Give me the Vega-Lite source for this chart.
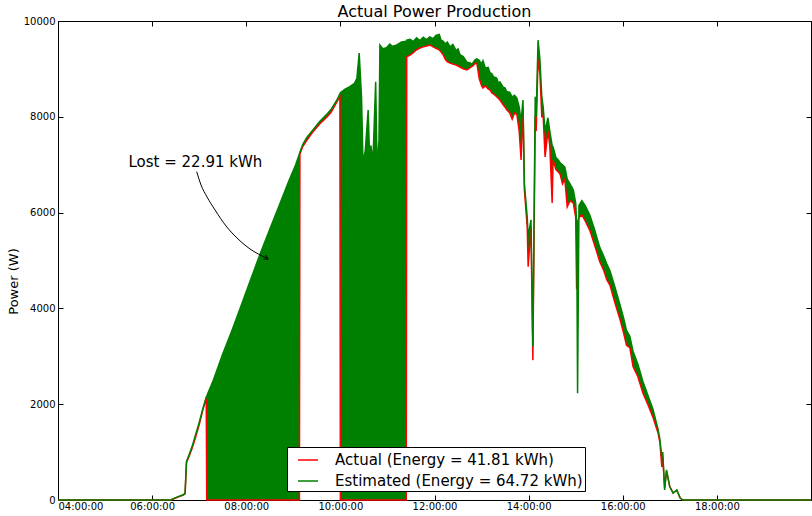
{
  "$schema": "https://vega.github.io/schema/vega-lite/v6.json",
  "width": 753,
  "height": 479,
  "autosize": {"type": "none"},
  "padding": {"left": 58, "top": 21, "right": 1, "bottom": 16},
  "background": "white",
  "title": {"text": "Actual Power Production", "fontSize": 16, "font": "DejaVu Sans", "fontWeight": "normal", "color": "black", "anchor": "middle", "offset": -4},
  "config": {
    "font": "DejaVu Sans",
    "view": {"stroke": "black", "strokeWidth": 1},
    "axis": {"grid": false, "domain": false, "tickColor": "black", "tickSize": -5, "tickWidth": 1, "labelColor": "black", "labelFontSize": 10, "labelFont": "DejaVu Sans"}
  },
  "data": {"values": [
    {"h":4.00,"a":0,"e":0},{"h":6.40,"a":0,"e":0},{"h":6.45,"a":20,"e":30},{"h":6.55,"a":60,"e":70},{"h":6.66,"a":100,"e":110},{"h":6.70,"a":130,"e":140},{"h":6.73,"a":780,"e":800},{"h":6.78,"a":900,"e":930},{"h":6.85,"a":1080,"e":1120},{"h":6.92,"a":1300,"e":1350},{"h":7.00,"a":1570,"e":1620},{"h":7.07,"a":1850,"e":1880},{"h":7.15,"a":2130,"e":2150},
    {"h":7.16,"a":0,"e":2170},{"h":7.30,"a":0,"e":2500},{"h":7.50,"a":0,"e":3050},{"h":7.70,"a":0,"e":3550},{"h":7.90,"a":0,"e":4080},{"h":8.10,"a":0,"e":4620},{"h":8.30,"a":0,"e":5150},{"h":8.50,"a":0,"e":5650},{"h":8.70,"a":0,"e":6150},{"h":8.90,"a":0,"e":6650},{"h":9.05,"a":0,"e":7000},{"h":9.13,"a":0,"e":7230},
    {"h":9.14,"a":7220,"e":7260},{"h":9.20,"a":7380,"e":7420},{"h":9.28,"a":7500,"e":7560},{"h":9.42,"a":7690,"e":7730},{"h":9.56,"a":7850,"e":7900},{"h":9.70,"a":7980,"e":8040},{"h":9.80,"a":8090,"e":8150},{"h":9.92,"a":8300,"e":8340},{"h":9.99,"a":8420,"e":8480},
    {"h":10.00,"a":0,"e":8500},{"h":10.10,"a":0,"e":8580},{"h":10.20,"a":0,"e":8630},{"h":10.30,"a":0,"e":8700},{"h":10.35,"a":0,"e":8800},{"h":10.40,"a":0,"e":9330},{"h":10.45,"a":0,"e":8400},{"h":10.48,"a":0,"e":7040},{"h":10.53,"a":0,"e":7300},{"h":10.59,"a":0,"e":8140},{"h":10.62,"a":0,"e":7200},{"h":10.65,"a":0,"e":7400},{"h":10.69,"a":0,"e":7040},{"h":10.75,"a":0,"e":8730},{"h":10.78,"a":0,"e":6950},{"h":10.82,"a":0,"e":7500},{"h":10.84,"a":0,"e":9500},{"h":10.90,"a":0,"e":9420},{"h":10.98,"a":0,"e":9440},{"h":11.05,"a":0,"e":9520},{"h":11.10,"a":0,"e":9470},{"h":11.20,"a":0,"e":9500},{"h":11.30,"a":0,"e":9560},{"h":11.40,"a":0,"e":9580},
    {"h":11.41,"a":9250,"e":9600},{"h":11.48,"a":9290,"e":9620},{"h":11.55,"a":9340,"e":9570},{"h":11.62,"a":9400,"e":9650},{"h":11.69,"a":9437,"e":9590},{"h":11.76,"a":9460,"e":9660},{"h":11.83,"a":9480,"e":9610},{"h":11.90,"a":9500,"e":9670},{"h":11.97,"a":9460,"e":9630},{"h":12.03,"a":9430,"e":9700},{"h":12.10,"a":9400,"e":9720},{"h":12.14,"a":9350,"e":9600},{"h":12.18,"a":9300,"e":9580},{"h":12.23,"a":9200,"e":9520},{"h":12.27,"a":9150,"e":9560},{"h":12.33,"a":9120,"e":9460},{"h":12.39,"a":9100,"e":9510},{"h":12.46,"a":9080,"e":9380},{"h":12.50,"a":9060,"e":9420},{"h":12.54,"a":9040,"e":9300},{"h":12.61,"a":9000,"e":9260},{"h":12.69,"a":8980,"e":9140},{"h":12.75,"a":9020,"e":9130},{"h":12.80,"a":9050,"e":9100},{"h":12.86,"a":9110,"e":9190},{"h":12.90,"a":9120,"e":9210},{"h":12.95,"a":8800,"e":9180},{"h":13.00,"a":8650,"e":9100},{"h":13.03,"a":8600,"e":9170},{"h":13.08,"a":8650,"e":9020},{"h":13.14,"a":8580,"e":9030},{"h":13.18,"a":8560,"e":8920},{"h":13.22,"a":8500,"e":8900},{"h":13.25,"a":8480,"e":8840},{"h":13.32,"a":8420,"e":8810},{"h":13.36,"a":8380,"e":8700},{"h":13.39,"a":8350,"e":8730},{"h":13.46,"a":8250,"e":8620},{"h":13.50,"a":8200,"e":8600},{"h":13.53,"a":8150,"e":8530},{"h":13.60,"a":8080,"e":8510},{"h":13.65,"a":7950,"e":8410},{"h":13.70,"a":8080,"e":8450},{"h":13.75,"a":8050,"e":8390},{"h":13.80,"a":7700,"e":8200},{"h":13.84,"a":7100,"e":7900},{"h":13.88,"a":8200,"e":8350},{"h":13.91,"a":6470,"e":6600},{"h":13.97,"a":5700,"e":5910},{"h":13.99,"a":4870,"e":5500},{"h":14.05,"a":5700,"e":5850},{"h":14.09,"a":2920,"e":3200},{"h":14.14,"a":8000,"e":8420},{"h":14.16,"a":7700,"e":8000},{"h":14.20,"a":9200,"e":9600},{"h":14.24,"a":8900,"e":9200},{"h":14.28,"a":8000,"e":8420},{"h":14.31,"a":8000,"e":8200},{"h":14.35,"a":7160,"e":7700},{"h":14.41,"a":7700,"e":7980},{"h":14.45,"a":7400,"e":7700},{"h":14.50,"a":6200,"e":7400},{"h":14.52,"a":7100,"e":7370},{"h":14.58,"a":6900,"e":7150},{"h":14.63,"a":6850,"e":7100},{"h":14.67,"a":6800,"e":7040},{"h":14.72,"a":6600,"e":7000},{"h":14.77,"a":6700,"e":6950},{"h":14.82,"a":6120,"e":6700},{"h":14.88,"a":6250,"e":6600},{"h":14.95,"a":6200,"e":6470},{"h":15.00,"a":5900,"e":6200},{"h":15.02,"a":4400,"e":5800},{"h":15.04,"a":5800,"e":2230},{"h":15.07,"a":5900,"e":6150},{"h":15.13,"a":5950,"e":6250},{"h":15.20,"a":5830,"e":6150},{"h":15.30,"a":5630,"e":5950},{"h":15.40,"a":5330,"e":5650},{"h":15.51,"a":4980,"e":5280},{"h":15.60,"a":4780,"e":5080},{"h":15.66,"a":4600,"e":4930},{"h":15.73,"a":4480,"e":4780},{"h":15.83,"a":4130,"e":4460},{"h":15.94,"a":3780,"e":4080},{"h":16.02,"a":3480,"e":3790},{"h":16.08,"a":3230,"e":3540},{"h":16.15,"a":3180,"e":3420},{"h":16.22,"a":2780,"e":3100},{"h":16.32,"a":2580,"e":2840},{"h":16.43,"a":2230,"e":2470},{"h":16.54,"a":1980,"e":2170},{"h":16.64,"a":1730,"e":1900},{"h":16.75,"a":1400,"e":1480},{"h":16.79,"a":1200,"e":1260},{"h":16.83,"a":690,"e":900},{"h":16.85,"a":900,"e":1000},{"h":16.89,"a":250,"e":210},{"h":16.93,"a":600,"e":630},{"h":17.00,"a":280,"e":270},{"h":17.07,"a":150,"e":146},{"h":17.15,"a":200,"e":210},{"h":17.22,"a":40,"e":42},{"h":17.28,"a":0,"e":0},{"h":20.00,"a":0,"e":0}
  ]},
  "resolve": {"axis": {"x": "independent", "y": "independent"}},
  "layer": [
    {
      "mark": {"type": "area", "color": "#008000", "opacity": 1},
      "encoding": {
        "x": {"field": "h", "type": "quantitative", "scale": {"domain": [4, 20], "nice": false, "zero": false},
              "axis": {"orient": "bottom", "values": [4,6,8,10,12,14,16,18], "labelExpr": "(datum.value < 10 ? '0' : '') + datum.value + ':00:00'", "title": null, "labelPadding": 6}},
        "y": {"field": "e", "type": "quantitative", "scale": {"domain": [0, 10000], "nice": false},
              "axis": {"orient": "left", "values": [0,2000,4000,6000,8000,10000], "format": "d", "labelPadding": 8, "title": "Power (W)", "titleFontSize": 13, "titleFontWeight": "normal", "titleColor": "black", "titleFont": "DejaVu Sans", "titleX": -45, "titleY": 260, "titleAngle": -90, "titleBaseline": "middle", "titleAlign": "center"}},
        "y2": {"field": "a"}
      }
    },
    {
      "mark": {"type": "line", "strokeWidth": 1.5},
      "encoding": {
        "x": {"field": "h", "type": "quantitative", "axis": null},
        "y": {"field": "a", "type": "quantitative", "axis": null},
        "color": {"datum": "Actual (Energy = 41.81 kWh)", "type": "nominal",
          "scale": {"domain": ["Actual (Energy = 41.81 kWh)", "Estimated (Energy = 64.72 kWh)"], "range": ["#ff0000", "#008000"]},
          "legend": {"orient": "none", "legendX": 229, "legendY": 426, "direction": "vertical", "title": null, "symbolType": "stroke", "symbolSize": 400, "symbolStrokeWidth": 1.5, "symbolOffset": 8, "labelFontSize": 15, "labelFont": "DejaVu Sans", "labelColor": "black", "labelOffset": 16, "labelLimit": 0, "strokeColor": "black", "fillColor": "white", "padding": 2, "rowPadding": 2, "cornerRadius": 0}}
      }
    },
    {
      "mark": {"type": "line", "strokeWidth": 1.5},
      "encoding": {
        "x": {"field": "h", "type": "quantitative", "axis": null},
        "y": {"field": "e", "type": "quantitative", "axis": null},
        "color": {"datum": "Estimated (Energy = 64.72 kWh)", "type": "nominal"}
      }
    },
    {
      "data": {"values": [{"h": 5.498, "v": 6950, "label": "Lost = 22.91 kWh"}]},
      "mark": {"type": "text", "align": "left", "baseline": "alphabetic", "fontSize": 15, "font": "DejaVu Sans", "color": "black"},
      "encoding": {
        "x": {"field": "h", "type": "quantitative", "axis": {"orient": "top", "values": [4,6,8,10,12,14,16,18], "labels": false, "title": null}},
        "y": {"field": "v", "type": "quantitative", "axis": {"orient": "right", "values": [0,2000,4000,6000,8000,10000], "labels": false, "title": null}},
        "text": {"field": "label"}
      }
    },
    {
      "data": {"values": [
        {"h": 6.947, "v": 6855}, {"h": 7.039, "v": 6577}, {"h": 7.166, "v": 6327}, {"h": 7.336, "v": 6055}, {"h": 7.570, "v": 5721}, {"h": 7.825, "v": 5450}, {"h": 8.080, "v": 5241}, {"h": 8.292, "v": 5116}, {"h": 8.462, "v": 5032}
      ]},
      "mark": {"type": "line", "color": "black", "strokeWidth": 1, "interpolate": "monotone"},
      "encoding": {
        "x": {"field": "h", "type": "quantitative", "axis": null},
        "y": {"field": "v", "type": "quantitative", "axis": null}
      }
    },
    {
      "data": {"values": [{"h": 8.462, "v": 5032}]},
      "mark": {"type": "point", "shape": "M-1,-0.6L0,0L-1,0.6", "filled": false, "stroke": "black", "strokeWidth": 1, "size": 64, "angle": 27, "opacity": 1},
      "encoding": {
        "x": {"field": "h", "type": "quantitative", "axis": null},
        "y": {"field": "v", "type": "quantitative", "axis": null}
      }
    }
  ]
}
